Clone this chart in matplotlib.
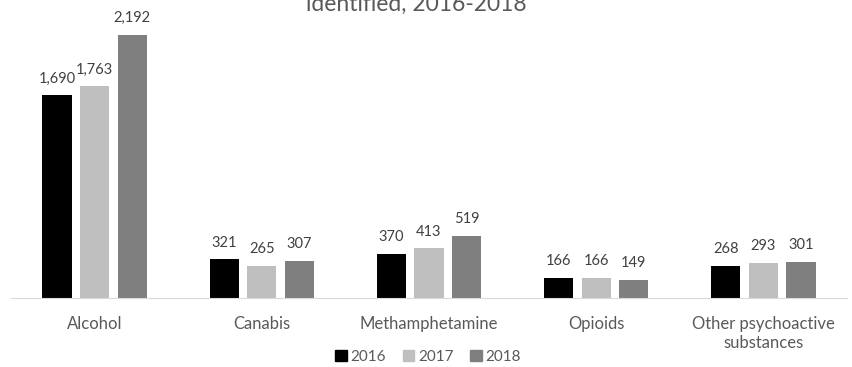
import numpy as np
import matplotlib.pyplot as plt
from matplotlib.patches import Patch

categories = ['Alcohol', 'Canabis', 'Methamphetamine', 'Opioids', 'Other psychoactive\nsubstances']
years = ['2016', '2017', '2018']
v2016 = [1690, 321, 370, 166, 268]
v2017 = [1763, 265, 413, 166, 293]
v2018 = [2192, 307, 519, 149, 301]
colors = ['#000000', '#bfbfbf', '#7f7f7f']

plt.rcParams['font.family'] = ['Lato', 'DejaVu Sans']

fig = plt.figure(figsize=(8.53, 3.67), dpi=100)
# baseline sits at y~298 px, axis runs x 11..847 px
ax = fig.add_axes([0.0129, 0.188, 0.980, 0.812])

x = np.arange(len(categories))
w = 0.174
step = 0.225
for k, (vals, c) in enumerate(zip([v2016, v2017, v2018], colors)):
    pos = x + (k - 1) * step
    bars = ax.bar(pos, vals, width=w, color=c, zorder=2)
    for b, v in zip(bars, vals):
        ax.annotate(f'{v:,}', (b.get_x() + b.get_width() / 2, v), xytext=(0, 7),
                    textcoords='offset points', ha='center', va='bottom',
                    fontsize=10.5, color='#404040')

ax.set_xlim(-0.5, len(categories) - 0.5)
ax.set_ylim(0, 2484)
for s in ['top', 'right', 'left']:
    ax.spines[s].set_visible(False)
ax.spines['bottom'].set_color('#d9d9d9')
ax.set_yticks([])
ax.set_xticks(x)
ax.set_xticklabels(categories, fontsize=12, color='#595959', linespacing=1.25)
ax.tick_params(axis='x', length=0, pad=13)

# title: only the last line is visible, the rest is above the picture
fig.text(0.488, 1 - 11 / 367, 'identified, 2016-2018', ha='center', va='baseline',
         fontsize=16.5, color='#595959')

handles = [Patch(color=c) for c in colors]
fig.legend(handles, years, loc='center', bbox_to_anchor=(0.502, 1 - 357 / 367), ncol=3,
           frameon=False, fontsize=11, handlelength=0.75, handleheight=0.75,
           columnspacing=1.1, handletextpad=0.25, labelcolor='#595959',
           borderpad=0.1)

fig.savefig('out.png', dpi=100)
